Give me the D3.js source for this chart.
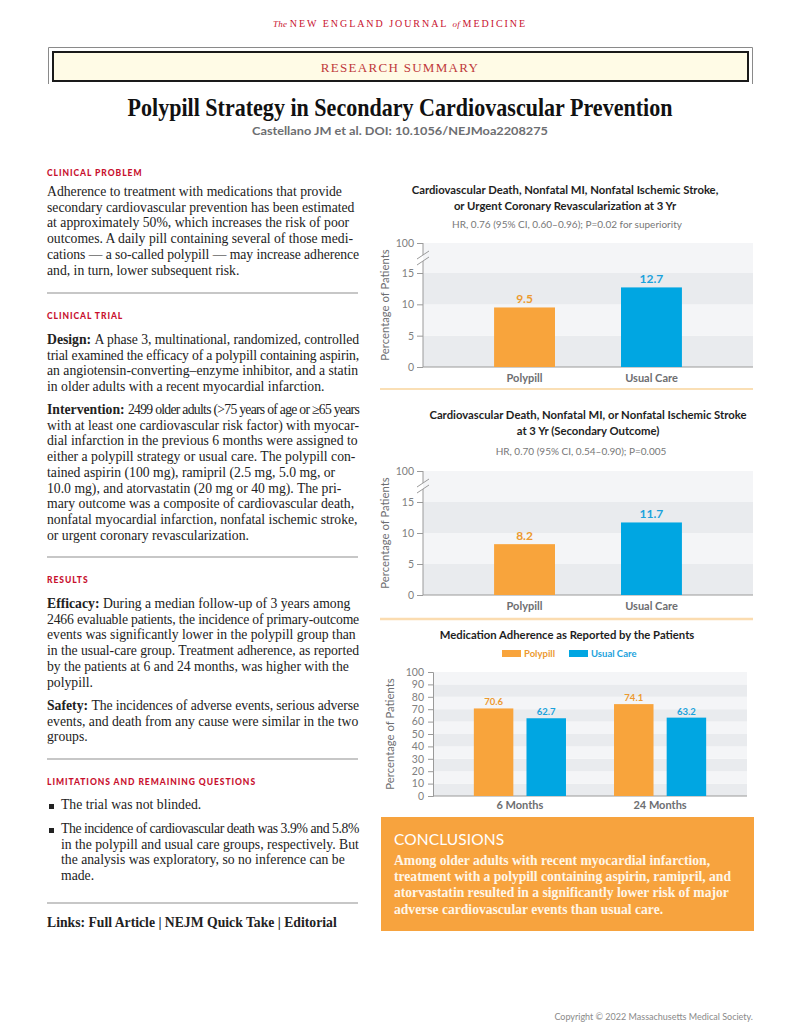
<!DOCTYPE html>
<html>
<head>
<meta charset="utf-8">
<script src="https://cdn.jsdelivr.net/npm/d3@7"></script>
<style>
  html, body { margin: 0; padding: 0; background: #ffffff; }
  svg { display: block; }
</style>
</head>
<body>
<script>
// ---------------- DATA ----------------
const outcomeCategories = ["Polypill", "Usual Care"];
const primaryValues = [9.5, 12.7];
const secondaryValues = [8.2, 11.7];
const breakTicks = [0, 5, 10, 15, 100];
const bandStopsBreak = [0, 5, 10, 15, 100];

const adherenceTimes = ["6 Months", "24 Months"];
const adherenceSeries = ["Polypill", "Usual Care"];
const adherencePolypill = [70.6, 74.1];
const adherenceUsual = [62.7, 63.2];
const adherenceTicks = [0, 10, 20, 30, 40, 50, 60, 70, 80, 90, 100];

const chart1Title = ["Cardiovascular Death, Nonfatal MI, Nonfatal Ischemic Stroke,", "or Urgent Coronary Revascularization at 3 Yr"];
const chart1Sub = "HR, 0.76 (95% CI, 0.60\u20130.96); P=0.02 for superiority";
const chart2Title = ["Cardiovascular Death, Nonfatal MI, or Nonfatal Ischemic Stroke", "at 3 Yr (Secondary Outcome)"];
const chart2Sub = "HR, 0.70 (95% CI, 0.54\u20130.90); P=0.005";
const chart3Title = "Medication Adherence as Reported by the Patients";
const yAxisTitle = "Percentage of Patients";

const problemLines = [
  "Adherence to treatment with medications that provide",
  "secondary cardiovascular prevention has been estimated",
  "at approximately 50%, which increases the risk of poor",
  "outcomes. A daily pill containing several of those medi-",
  "cations \u2014 a so-called polypill \u2014 may increase adherence",
  "and, in turn, lower subsequent risk."
];
const designLines = [
  "A phase 3, multinational, randomized, controlled",
  "trial examined the efficacy of a polypill containing aspirin,",
  "an angiotensin-converting\u2013enzyme inhibitor, and a statin",
  "in older adults with a recent myocardial infarction."
];
const interventionLines = [
  "2499 older adults (>75 years of age or \u226565 years",
  "with at least one cardiovascular risk factor) with myocar-",
  "dial infarction in the previous 6 months were assigned to",
  "either a polypill strategy or usual care. The polypill con-",
  "tained aspirin (100 mg), ramipril (2.5 mg, 5.0 mg, or",
  "10.0 mg), and atorvastatin (20 mg or 40 mg). The pri-",
  "mary outcome was a composite of cardiovascular death,",
  "nonfatal myocardial infarction, nonfatal ischemic stroke,",
  "or urgent coronary revascularization."
];
const efficacyLines = [
  "During a median follow-up of 3 years among",
  "2466 evaluable patients, the incidence of primary-outcome",
  "events was significantly lower in the polypill group than",
  "in the usual-care group. Treatment adherence, as reported",
  "by the patients at 6 and 24 months, was higher with the",
  "polypill."
];
const safetyLines = [
  "The incidences of adverse events, serious adverse",
  "events, and death from any cause were similar in the two",
  "groups."
];
const bullet1Lines = ["The trial was not blinded."];
const bullet2Lines = [
  "The incidence of cardiovascular death was 3.9% and 5.8%",
  "in the polypill and usual care groups, respectively. But",
  "the analysis was exploratory, so no inference can be",
  "made."
];
const conclusionLines = [
  "Among older adults with recent myocardial infarction,",
  "treatment with a polypill containing aspirin, ramipril, and",
  "atorvastatin resulted in a significantly lower risk of major",
  "adverse cardiovascular events than usual care."
];

// ---------------- STYLE ----------------
const SERIF = "'Liberation Serif', 'Times New Roman', serif";
const SANS = "Lato, 'Open Sans', 'Noto Sans', sans-serif";
const RED = "#c8102e";
const ORANGE = "#f8a43c";
const BLUE = "#00a6e2";
const ORANGE_TXT = "#ec9a30";
const BLUE_TXT = "#1aa2dc";
const GRAY_TXT = "#6d6e71";
const BAND_DARK = "#e9ebee";
const BAND_LIGHT = "#f4f5f7";
const AXIS = "#9a9a9a";

const svg = d3.select("body").append("svg")
  .attr("width", 800).attr("height", 1035)
  .attr("viewBox", "0 0 800 1035");

// ---------------- HEADER ----------------
const hdr = svg.append("text").attr("x", 400).attr("y", 27)
  .attr("text-anchor", "middle").attr("font-family", SERIF)
  .attr("fill", RED).attr("font-size", 10).attr("letter-spacing", 1.95);
hdr.append("tspan").attr("font-style", "italic").attr("font-size", 9).attr("letter-spacing", 0.3).text("The ");
hdr.append("tspan").text("NEW ENGLAND JOURNAL ");
hdr.append("tspan").attr("font-style", "italic").attr("font-size", 9).attr("letter-spacing", 0.3).text("of ");
hdr.append("tspan").text("MEDICINE");

svg.append("path").attr("d", "M48.5,84 V47.5 H752.5 V84")
  .attr("fill", "none").attr("stroke", "#8a8a8a").attr("stroke-width", 1);
svg.append("rect").attr("x", 53).attr("y", 52).attr("width", 695).attr("height", 29)
  .attr("fill", "#fffbe6").attr("stroke", "#1a1a1a").attr("stroke-width", 2);
svg.append("text").attr("x", 400).attr("y", 72).attr("text-anchor", "middle")
  .attr("font-family", SERIF).attr("font-size", 13).attr("letter-spacing", 1.3)
  .attr("fill", "#c0393b").text("RESEARCH SUMMARY");

svg.append("text").attr("x", 400).attr("y", 116).attr("text-anchor", "middle")
  .attr("font-family", SERIF).attr("font-weight", "bold").attr("font-size", 25)
  .attr("fill", "#111").attr("textLength", 545).attr("lengthAdjust", "spacingAndGlyphs")
  .text("Polypill Strategy in Secondary Cardiovascular Prevention");
svg.append("text").attr("x", 400).attr("y", 135).attr("text-anchor", "middle")
  .attr("font-family", SANS).attr("font-weight", "bold").attr("font-size", 12)
  .attr("fill", GRAY_TXT).attr("textLength", 296).attr("lengthAdjust", "spacingAndGlyphs")
  .text("Castellano JM et al. DOI: 10.1056/NEJMoa2208275");

// ---------------- LEFT COLUMN ----------------
const LX = 47, LR = 359, LH = 15.7, BODY = 13.7;
const left = svg.append("g");

function heading(y, txt) {
  left.append("text").attr("x", LX).attr("y", y + 3)
    .attr("font-family", SANS).attr("font-weight", "900").attr("font-size", 8.5)
    .attr("letter-spacing", 0.95).attr("fill", RED).text(txt);
}
function rule(y) {
  left.append("line").attr("x1", LX).attr("x2", LR - 1).attr("y1", y).attr("y2", y)
    .attr("stroke", "#b4b4b4").attr("stroke-width", 1.5);
}
function para(x, yc, lines, boldLead) {
  lines.forEach((ln, i) => {
    const yy = yc + 4 + i * LH;
    let xx = x;
    if (i === 0 && boldLead) {
      const lead = left.append("text").attr("x", x).attr("y", yy)
        .attr("font-family", SERIF).attr("font-weight", "bold").attr("font-size", BODY)
        .attr("fill", "#222").text(boldLead);
      xx = x + lead.node().getComputedTextLength() + BODY * 0.25;
    }
    const t = left.append("text").attr("x", xx).attr("y", yy)
      .attr("font-family", SERIF).attr("font-size", BODY).attr("fill", "#222").text(ln);
    const w = t.node().getComputedTextLength();
    const avail = LR - xx;
    if (w > avail) {
      // tighten letter spacing evenly so the line stays inside the column
      t.attr("letter-spacing", ((avail - w) / ln.length).toFixed(3));
    }
  });
}

heading(173, "CLINICAL PROBLEM");
para(LX, 192, problemLines);
rule(293);
heading(316, "CLINICAL TRIAL");
para(LX, 340, designLines, "Design:");
para(LX, 410, interventionLines, "Intervention:");
rule(557);
heading(580, "RESULTS");
para(LX, 604, efficacyLines, "Efficacy:");
para(LX, 706, safetyLines, "Safety:");
rule(759);
heading(782, "LIMITATIONS AND REMAINING QUESTIONS");
para(61, 805, bullet1Lines);
para(61, 829, bullet2Lines);
[805, 829].forEach(yc => {
  left.append("rect").attr("x", 49).attr("y", yc - 1).attr("width", 5).attr("height", 5).attr("fill", "#222");
});
rule(903);
left.append("text").attr("x", LX).attr("y", 927)
  .attr("font-family", SERIF).attr("font-weight", "bold").attr("font-size", BODY)
  .attr("fill", "#222").text("Links: Full Article | NEJM Quick Take | Editorial");

// ---------------- BREAK-AXIS CHARTS ----------------
function breakChart(cfg) {
  const g = svg.append("g");
  const x = d3.scaleBand().domain(outcomeCategories).range([423, 753])
    .paddingInner(0.52).paddingOuter(0.56);
  const y = d3.scaleLinear().domain([0, 15, 100]).range([cfg.y0, cfg.y15, cfg.y100]);

  cfg.title.forEach((t, i) => {
    g.append("text").attr("x", cfg.tcx).attr("y", cfg.ty + i * 15.5)
      .attr("text-anchor", "middle").attr("font-family", SANS).attr("font-weight", "bold")
      .attr("font-size", 11.3).attr("fill", "#1e1e1e").text(t);
  });
  g.append("text").attr("x", cfg.scx).attr("y", cfg.sy).attr("text-anchor", "middle")
    .attr("font-family", SANS).attr("font-size", 10).attr("fill", "#777").text(cfg.sub);

  for (let i = 0; i < bandStopsBreak.length - 1; i++) {
    g.append("rect").attr("x", 423).attr("width", 330)
      .attr("y", y(bandStopsBreak[i + 1]))
      .attr("height", y(bandStopsBreak[i]) - y(bandStopsBreak[i + 1]))
      .attr("fill", i % 2 === 0 ? BAND_DARK : BAND_LIGHT);
  }
  const ax = g.append("g").attr("transform", "translate(423,0)")
    .call(d3.axisLeft(y).tickValues(breakTicks).tickSize(6).tickPadding(3).tickFormat(d3.format("d")));
  ax.select(".domain").remove();
  ax.selectAll(".tick line").attr("stroke", AXIS);
  ax.selectAll(".tick text").attr("font-family", SANS).attr("font-size", 10.5).attr("fill", "#808080");
  const yb = cfg.y100 + 15;
  g.append("line").attr("x1", 423).attr("x2", 423).attr("y1", cfg.y100).attr("y2", yb - 3).attr("stroke", AXIS);
  g.append("line").attr("x1", 423).attr("x2", 423).attr("y1", yb + 3).attr("y2", cfg.y0).attr("stroke", AXIS);
  [-3, 3].forEach(o => {
    g.append("line").attr("x1", 417).attr("x2", 429)
      .attr("y1", yb + o + 4).attr("y2", yb + o - 4).attr("stroke", AXIS).attr("stroke-width", 1);
  });
  g.append("line").attr("x1", 423).attr("x2", 753).attr("y1", cfg.y0).attr("y2", cfg.y0).attr("stroke", AXIS);

  const colors = [ORANGE, BLUE], tcolors = [ORANGE_TXT, BLUE_TXT];
  g.selectAll(".bar").data(cfg.values).join("rect")
    .attr("x", (d, i) => x(outcomeCategories[i])).attr("width", x.bandwidth())
    .attr("y", d => y(d)).attr("height", d => cfg.y0 - y(d))
    .attr("fill", (d, i) => colors[i]);
  g.selectAll(".val").data(cfg.values).join("text")
    .attr("x", (d, i) => x(outcomeCategories[i]) + x.bandwidth() / 2)
    .attr("y", d => y(d) - 4).attr("text-anchor", "middle")
    .attr("font-family", SANS).attr("font-weight", "bold").attr("font-size", 12)
    .attr("fill", (d, i) => tcolors[i]).text(d => d.toFixed(1));
  g.selectAll(".xl").data(outcomeCategories).join("text")
    .attr("x", d => x(d) + x.bandwidth() / 2).attr("y", cfg.y0 + 15)
    .attr("text-anchor", "middle").attr("font-family", SANS).attr("font-weight", "bold")
    .attr("font-size", 11).attr("fill", GRAY_TXT).text(d => d);
  g.append("text").attr("transform", `translate(389,${(cfg.y100 + cfg.y0) / 2}) rotate(-90)`)
    .attr("text-anchor", "middle").attr("font-family", SANS).attr("font-size", 11.3)
    .attr("fill", GRAY_TXT).text(yAxisTitle);
  g.append("line").attr("x1", 380).attr("x2", 753).attr("y1", cfg.sep).attr("y2", cfg.sep)
    .attr("stroke", cfg.sepColor).attr("stroke-width", cfg.sepW);
}

breakChart({ title: chart1Title, sub: chart1Sub, tcx: 565, ty: 194, scx: 567, sy: 228,
  y100: 243, y15: 273, y0: 367, values: primaryValues, sep: 389, sepColor: "#f9d49c", sepW: 1.5 });
breakChart({ title: chart2Title, sub: chart2Sub, tcx: 588, ty: 419, scx: 581, sy: 455,
  y100: 471, y15: 502, y0: 595, values: secondaryValues, sep: 619, sepColor: "#fbdcb0", sepW: 2.5 });

// ---------------- ADHERENCE CHART ----------------
(function () {
  const g = svg.append("g");
  const X0 = 433, X1 = 747, Y0 = 796, Y100 = 672;
  const x = d3.scaleBand().domain(adherenceTimes).range([X0, X1]).paddingInner(0.2).paddingOuter(0.22);
  const xs = d3.scaleBand().domain(adherenceSeries).range([0, x.bandwidth()]).paddingInner(0.25).paddingOuter(0.19);
  const y = d3.scaleLinear().domain([0, 100]).range([Y0, Y100]);

  g.append("text").attr("x", 567).attr("y", 639).attr("text-anchor", "middle")
    .attr("font-family", SANS).attr("font-weight", "bold").attr("font-size", 11.3)
    .attr("fill", "#1e1e1e").text(chart3Title);

  const legend = [{ n: adherenceSeries[0], c: ORANGE, t: ORANGE_TXT, x: 502 },
                  { n: adherenceSeries[1], c: BLUE, t: BLUE_TXT, x: 569 }];
  legend.forEach(l => {
    g.append("rect").attr("x", l.x).attr("y", 650).attr("width", 19).attr("height", 7).attr("fill", l.c);
    g.append("text").attr("x", l.x + 22).attr("y", 657).attr("font-family", SANS)
      .attr("font-weight", "bold").attr("font-size", 9.5).attr("fill", l.t).text(l.n);
  });

  for (let i = 0; i < adherenceTicks.length - 1; i++) {
    g.append("rect").attr("x", X0).attr("width", X1 - X0)
      .attr("y", y(adherenceTicks[i + 1])).attr("height", y(adherenceTicks[i]) - y(adherenceTicks[i + 1]))
      .attr("fill", i % 2 === 0 ? BAND_DARK : BAND_LIGHT);
  }
  const ax = g.append("g").attr("transform", `translate(${X0},0)`)
    .call(d3.axisLeft(y).tickValues(adherenceTicks).tickSize(5).tickPadding(4));
  ax.select(".domain").attr("stroke", AXIS);
  ax.selectAll(".tick line").attr("stroke", AXIS);
  ax.selectAll(".tick text").attr("font-family", SANS).attr("font-size", 10.5).attr("fill", "#808080");
  g.append("line").attr("x1", X0).attr("x2", X1).attr("y1", Y0).attr("y2", Y0).attr("stroke", AXIS);

  const rows = adherenceTimes.map((t, i) => ({ t, vals: [adherencePolypill[i], adherenceUsual[i]] }));
  const colors = [ORANGE, BLUE], tcolors = [ORANGE_TXT, BLUE_TXT];
  rows.forEach(r => {
    r.vals.forEach((v, j) => {
      const bx = x(r.t) + xs(adherenceSeries[j]);
      g.append("rect").attr("x", bx).attr("width", xs.bandwidth())
        .attr("y", y(v)).attr("height", Y0 - y(v)).attr("fill", colors[j]);
      g.append("text").attr("x", bx + xs.bandwidth() / 2).attr("y", y(v) - 3)
        .attr("text-anchor", "middle").attr("font-family", SANS).attr("font-weight", "bold")
        .attr("font-size", 9.5).attr("fill", tcolors[j]).text(v.toFixed(1));
    });
    g.append("text").attr("x", x(r.t) + x.bandwidth() / 2).attr("y", Y0 + 13)
      .attr("text-anchor", "middle").attr("font-family", SANS).attr("font-weight", "bold")
      .attr("font-size", 11).attr("fill", GRAY_TXT).text(r.t);
  });
  g.append("text").attr("transform", `translate(394,${(Y0 + Y100) / 2}) rotate(-90)`)
    .attr("text-anchor", "middle").attr("font-family", SANS).attr("font-size", 11.3)
    .attr("fill", GRAY_TXT).text(yAxisTitle);
})();

// ---------------- CONCLUSIONS ----------------
svg.append("rect").attr("x", 381).attr("y", 817).attr("width", 373).attr("height", 114).attr("fill", "#f7a33e");
svg.append("text").attr("x", 394).attr("y", 845).attr("font-family", SANS).attr("font-size", 15.5)
  .attr("letter-spacing", 0.1).attr("fill", "#ffffff").text("CONCLUSIONS");
conclusionLines.forEach((ln, i) => {
  svg.append("text").attr("x", 394).attr("y", 865 + i * 16.2)
    .attr("font-family", SERIF).attr("font-weight", "bold").attr("font-size", 13.6)
    .attr("fill", "#fff6e8").text(ln);
});

// ---------------- FOOTER ----------------
svg.append("text").attr("x", 753).attr("y", 1020).attr("text-anchor", "end")
  .attr("font-family", SANS).attr("font-size", 9).attr("fill", "#8a8a8a")
  .text("Copyright \u00a9 2022  Massachusetts Medical Society.");
</script>
</body>
</html>
